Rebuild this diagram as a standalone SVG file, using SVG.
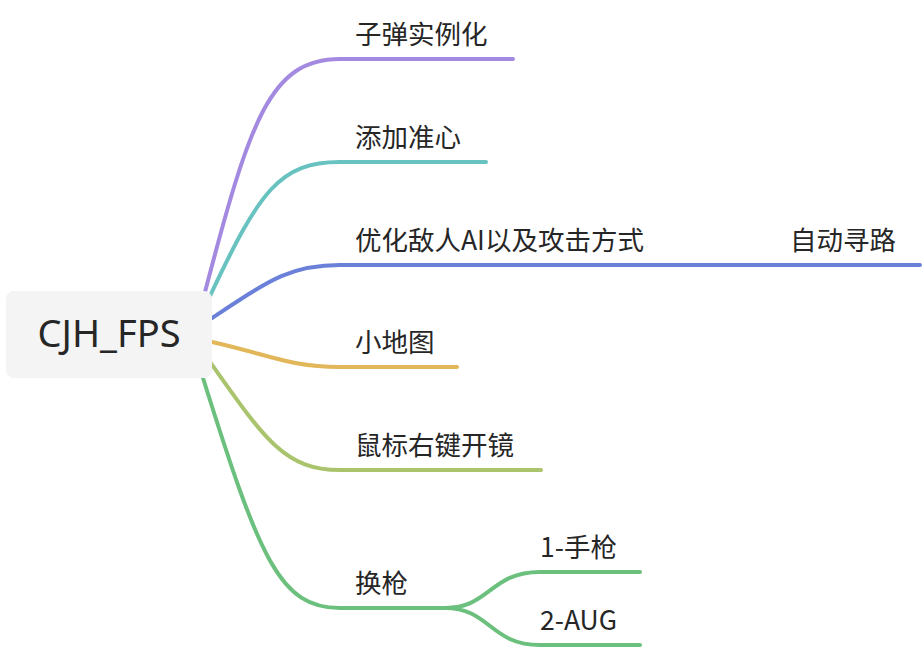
<svg xmlns="http://www.w3.org/2000/svg" width="924" height="652" viewBox="0 0 924 652">
<style>
.t{font-family:"Microsoft YaHei","Noto Sans CJK SC","Noto Sans",sans-serif;font-size:26.5px;fill:#262626}
.c{fill:none;stroke-width:4;stroke-linecap:round}
</style>
<rect width="924" height="652" fill="#fff"/>
<g id="connectors">
<path class="c" stroke="#a38ae0" d="M205,292 C250,120 270,59 340,59 H513"/>
<path class="c" stroke="#68c3c0" d="M210,296 C260,190 280,162 340,162 H486"/>
<path class="c" stroke="#6b80d9" d="M212,318 C270,280 290,265 340,265 H920"/>
<path class="c" stroke="#e1b75a" d="M212,342 C270,355 290,367 340,367 H457"/>
<path class="c" stroke="#a9c46c" d="M210,362 C265,440 285,470 340,470 H541"/>
<path class="c" stroke="#6cc07e" d="M203,378 C260,560 280,608 340,608 H445"/>
<path class="c" stroke="#6cc07e" d="M445,608 C490,608 490,572 540,572 H640"/>
<path class="c" stroke="#6cc07e" d="M445,608 C490,608 490,645 540,645 H640"/>
</g>
<g id="root"><rect x="6" y="291" width="206" height="87" rx="8" fill="#f4f4f4"/><text x="109" y="347" text-anchor="middle" style="font-family:'Noto Sans',sans-serif;font-size:38px;fill:#262626">CJH_FPS</text></g>
<g id="n1"><text class="t" x="355" y="44">子弹实例化</text></g>
<g id="n2"><text class="t" x="355" y="147">添加准心</text></g>
<g id="n3"><text class="t" x="355" y="250">优化敌人AI以及攻击方式</text></g>
<g id="n3a"><text class="t" x="790" y="250">自动寻路</text></g>
<g id="n4"><text class="t" x="355" y="352">小地图</text></g>
<g id="n5"><text class="t" x="355" y="455">鼠标右键开镜</text></g>
<g id="n6"><text class="t" x="355" y="593">换枪</text></g>
<g id="n6a"><text class="t" x="540" y="557">1-手枪</text></g>
<g id="n6b"><text class="t" x="540" y="630">2-AUG</text></g>
</svg>
